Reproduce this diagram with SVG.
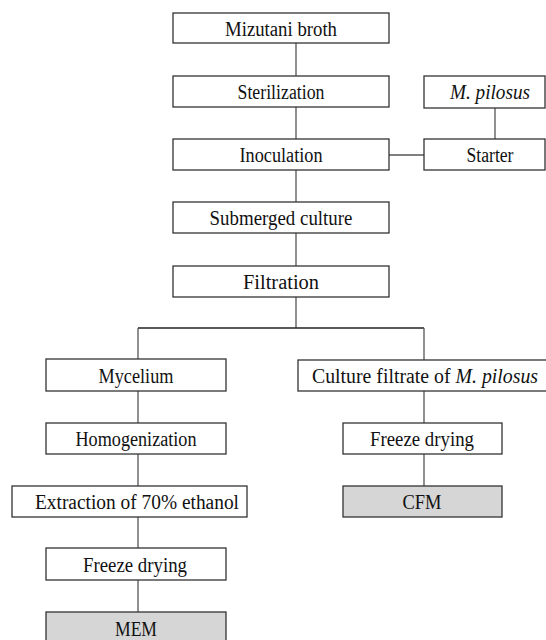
<svg xmlns="http://www.w3.org/2000/svg" width="546" height="640" viewBox="0 0 546 640">
<style>
rect{fill:#fff;stroke:#333;stroke-width:1.3}
rect.g{fill:#d6d6d6}
text{font-family:"Liberation Serif","Times New Roman",serif;font-size:20.5px;fill:#111;text-anchor:middle}
.i{font-style:italic}
#connectors line{stroke:#555;stroke-width:1.3}
</style>
<rect x="0" y="0" width="546" height="640" style="fill:#fff;stroke:none"/>
<g id="connectors">
<line x1="296" y1="43" x2="296" y2="76"/>
<line x1="296" y1="107" x2="296" y2="139"/>
<line x1="296" y1="170" x2="296" y2="202"/>
<line x1="296" y1="233" x2="296" y2="266"/>
<line x1="296" y1="297" x2="296" y2="328"/>
<line x1="495" y1="108" x2="495" y2="139"/>
<line x1="389" y1="155" x2="424" y2="155"/>
<line x1="138" y1="328" x2="424" y2="328" style="stroke:#222"/>
<line x1="138" y1="328" x2="138" y2="359"/>
<line x1="424" y1="328" x2="424" y2="360"/>
<line x1="138" y1="391" x2="138" y2="423"/>
<line x1="138" y1="454" x2="138" y2="486"/>
<line x1="138" y1="517" x2="138" y2="548"/>
<line x1="138" y1="580" x2="138" y2="612"/>
<line x1="424" y1="391" x2="424" y2="423"/>
<line x1="424" y1="454" x2="424" y2="486"/>
</g>
<g id="mizutani"><rect x="173" y="13" width="216" height="30"/><text x="281" y="36" textLength="112" lengthAdjust="spacingAndGlyphs">Mizutani  broth</text></g>
<g id="sterilization"><rect x="173" y="76" width="216" height="31"/><text x="281" y="99" textLength="87" lengthAdjust="spacingAndGlyphs">Sterilization</text></g>
<g id="inoculation"><rect x="173" y="139" width="216" height="31"/><text x="281" y="162" textLength="83" lengthAdjust="spacingAndGlyphs">Inoculation</text></g>
<g id="submerged"><rect x="173" y="202" width="216" height="31"/><text x="281" y="225" textLength="143" lengthAdjust="spacingAndGlyphs">Submerged  culture</text></g>
<g id="filtration"><rect x="173" y="266" width="216" height="31"/><text x="281" y="289" textLength="76" lengthAdjust="spacingAndGlyphs">Filtration</text></g>
<g id="mpilosus"><rect x="424" y="76" width="121" height="32"/><text x="490" y="99" class="i" textLength="80" lengthAdjust="spacingAndGlyphs">M.  pilosus</text></g>
<g id="starter"><rect x="424" y="139" width="121" height="31"/><text x="490" y="162" textLength="47" lengthAdjust="spacingAndGlyphs">Starter</text></g>
<g id="mycelium"><rect x="46" y="359" width="180" height="32"/><text x="136" y="383" textLength="75" lengthAdjust="spacingAndGlyphs">Mycelium</text></g>
<g id="homogenization"><rect x="46" y="423" width="180" height="31"/><text x="136" y="446" textLength="121" lengthAdjust="spacingAndGlyphs">Homogenization</text></g>
<g id="extraction"><rect x="12" y="486" width="235" height="31"/><text x="137" y="509" textLength="204" lengthAdjust="spacingAndGlyphs">Extraction  of  70%  ethanol</text></g>
<g id="freeze-left"><rect x="46" y="548" width="180" height="32"/><text x="135" y="572" textLength="104" lengthAdjust="spacingAndGlyphs">Freeze  drying</text></g>
<g id="mem"><rect class="g" x="46" y="612" width="180" height="30"/><text x="136" y="636" textLength="42" lengthAdjust="spacingAndGlyphs">MEM</text></g>
<g id="culture-filtrate"><rect x="298" y="360" width="250" height="31"/><text x="425" y="383" textLength="226" lengthAdjust="spacingAndGlyphs">Culture  filtrate  of  <tspan class="i">M.  pilosus</tspan></text></g>
<g id="freeze-right"><rect x="343" y="423" width="159" height="31"/><text x="422" y="446" textLength="104" lengthAdjust="spacingAndGlyphs">Freeze  drying</text></g>
<g id="cfm"><rect class="g" x="343" y="486" width="159" height="31"/><text x="422" y="509" textLength="39" lengthAdjust="spacingAndGlyphs">CFM</text></g>
</svg>
